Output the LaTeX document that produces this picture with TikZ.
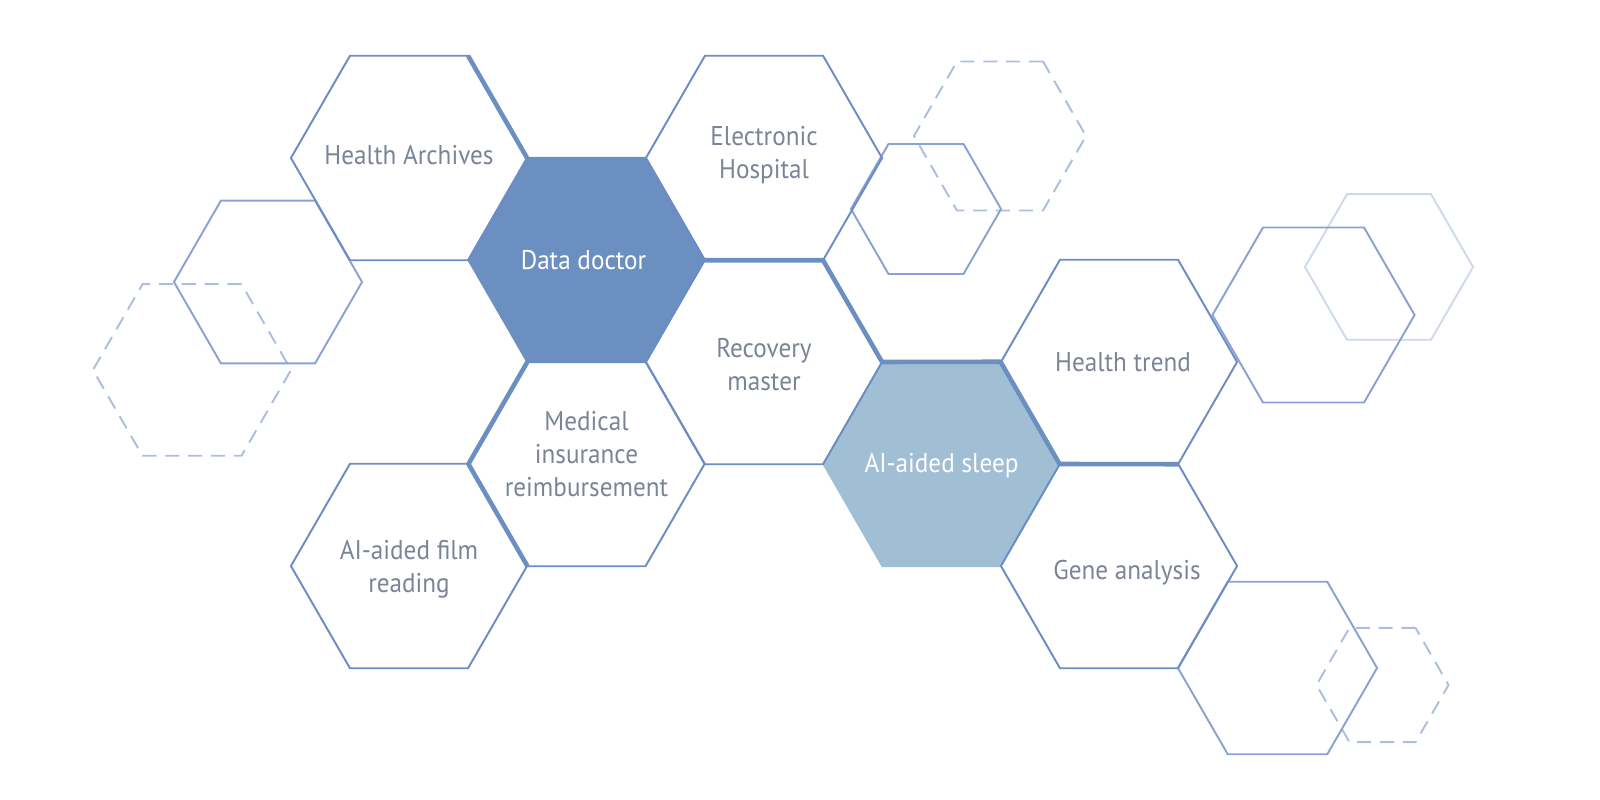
\documentclass[tikz,border=0pt]{standalone}
\usepackage{fontspec}
\setmainfont{PT Sans}[FakeStretch=0.93]
\usetikzlibrary{shapes.geometric}

\definecolor{hexline}{RGB}{107,140,196}
\definecolor{hexlight}{RGB}{138,162,210}
\definecolor{hexdash}{RGB}{172,190,224}
\definecolor{hexpale}{RGB}{206,217,236}
\definecolor{docfill}{RGB}{108,143,194}
\definecolor{sleepfill}{RGB}{160,190,212}
\definecolor{hextext}{RGB}{122,132,150}

\tikzset{
    hexa/.style={regular polygon, regular polygon sides=6, minimum size=2.36cm,
        inner sep=0pt, outer sep=0pt, draw=hexline, line width=0.55pt},
    deco/.style={regular polygon, regular polygon sides=6, minimum size=#1,
        inner sep=0pt, outer sep=0pt, line width=0.55pt},
    hexlabel/.style={align=center, text=hextext, inner sep=0pt,
        font=\fontsize{7.7}{9.4}\selectfont},
    thickedge/.style={draw=docfill, line width=1.3pt, line join=round}
}

\begin{document}
\begin{tikzpicture}[x=0.01cm, y=0.01cm]
    \useasboundingbox (0,0) rectangle (1600,800);

    % background hexagons
    \foreach \n/\x/\y/\d in {dleft/192/430/1.98cm, dtop/1000/664/1.72cm, dbottom/1382.5/115/1.32cm} {
        \node[deco=\d, draw=hexdash, dashed, dash pattern=on 4pt off 2.5pt] (\n) at (\x,\y) {};
    }
    \node[deco=1.68cm, draw=hexpale] (pright) at (1389,533) {};
    \foreach \n/\x/\y/\d in {sleft/268/518/1.88cm, stop/926/591/1.5cm, sright/1313.5/485/2.02cm, sbottom/1277.5/132/1.99cm} {
        \node[deco=\d, draw=hexlight] (\n) at (\x,\y) {};
    }

    % cells
    \node[hexa, fill=docfill, draw=docfill] (doctor) at (586.5,540) {};
    \node[hexa, fill=sleepfill, draw=sleepfill] (sleep) at (941.5,336) {};
    \node[hexa] (archives) at (409,642) {};
    \node[hexa] (hospital) at (764,642) {};
    \node[hexa] (recovery) at (764,438) {};
    \node[hexa] (insurance) at (586.5,336) {};
    \node[hexa] (film) at (409,234) {};
    \node[hexa] (trend) at (1119,438) {};
    \node[hexa] (gene) at (1119,234) {};

    % thick edges
    \draw[thickedge] (archives.60) -- (archives.0);
    \draw[thickedge] (insurance.120) -- (insurance.180) -- (insurance.240);
    \draw[thickedge] (hospital.240) -- (hospital.300) -- (recovery.0)
        -- (sleep.60) -- (sleep.0) -- (trend.300);

    % labels
    \node[hexlabel, text=white] (doctor-t) at ([xshift=-0.03cm]doctor.center) {Data doctor};
    \node[hexlabel, text=white] (sleep-t) at ([yshift=-0.02cm]sleep.center) {AI-aided sleep};
    \node[hexlabel] (archives-t) at ([yshift=0.03cm]archives.center) {Health Archives};
    \node[hexlabel] (hospital-t) at ([yshift=0.03cm]hospital.center) {Electronic\\Hospital};
    \node[hexlabel] (recovery-t) at ([yshift=-0.03cm]recovery.center) {Recovery\\master};
    \node[hexlabel] (insurance-t) at ([yshift=0.10cm]insurance.center) {Medical\\insurance\\reimbursement};
    \node[hexlabel] (film-t) at ([yshift=-0.03cm]film.center) {AI-aided film\\reading};
    \node[hexlabel] (trend-t) at ([xshift=0.04cm]trend.center) {Health trend};
    \node[hexlabel] (gene-t) at ([xshift=0.08cm,yshift=-0.07cm]gene.center) {Gene analysis};

\end{tikzpicture}
\end{document}
